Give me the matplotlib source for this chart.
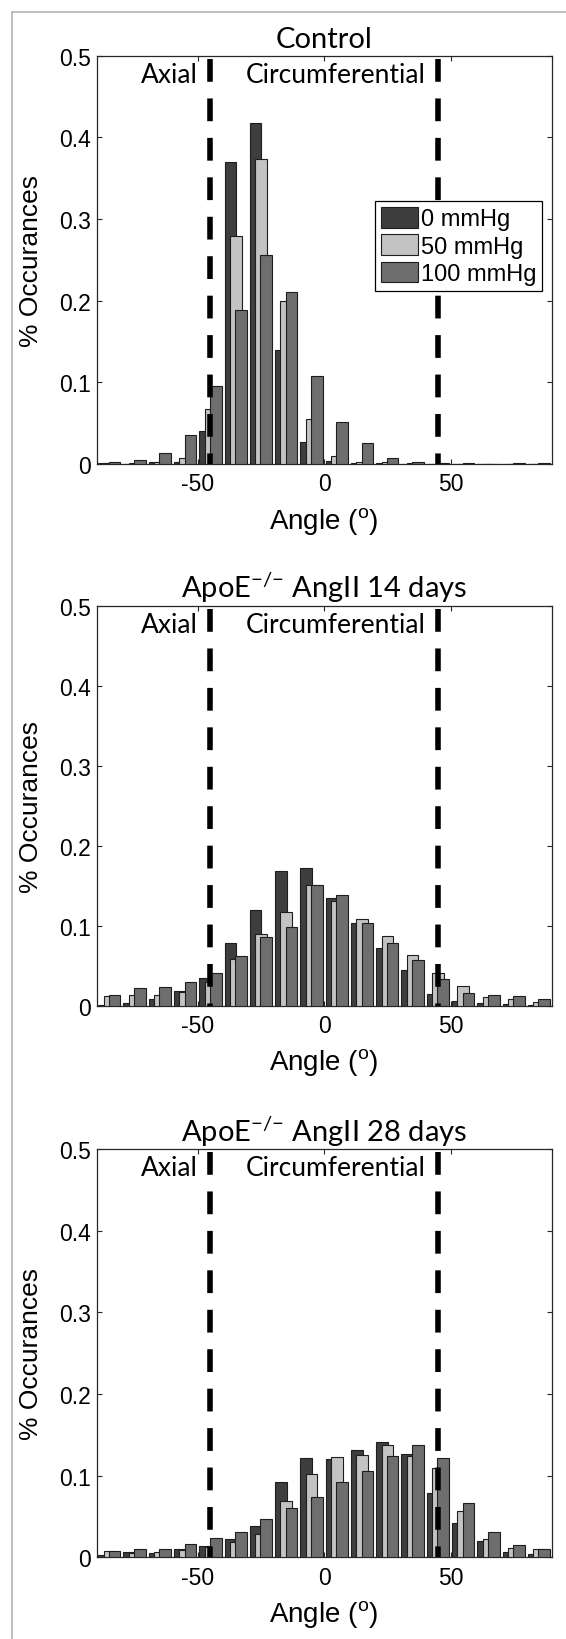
import matplotlib

matplotlib.use("Agg")
import matplotlib.pyplot as plt
from matplotlib.lines import Line2D
from matplotlib.ticker import FixedLocator, FixedFormatter

# ---- data ----------------------------------------------------------------
BIN_CENTERS = [-85, -75, -65, -55, -45, -35, -25, -15, -5,
               5, 15, 25, 35, 45, 55, 65, 75, 85]
SERIES = ["0 mmHg", "50 mmHg", "100 mmHg"]

CONTROL_0 = [0.001, 0.0005, 0.002, 0.003, 0.040, 0.370, 0.417, 0.139, 0.027,
             0.004, 0.001, 0.001, 0.0005, 0.0005, 0.0005, 0.0, 0.0003, 0.0005]
CONTROL_50 = [0.001, 0.001, 0.002, 0.007, 0.067, 0.279, 0.374, 0.200, 0.055,
              0.010, 0.003, 0.002, 0.001, 0.0005, 0.0005, 0.0, 0.0005, 0.0005]
CONTROL_100 = [0.002, 0.005, 0.013, 0.035, 0.095, 0.189, 0.256, 0.211, 0.108,
               0.051, 0.026, 0.007, 0.003, 0.001, 0.001, 0.0, 0.001, 0.001]

D14_0 = [0.001, 0.003, 0.008, 0.018, 0.035, 0.079, 0.120, 0.168, 0.172,
         0.135, 0.103, 0.072, 0.045, 0.015, 0.006, 0.003, 0.002, 0.001]
D14_50 = [0.012, 0.013, 0.013, 0.017, 0.030, 0.058, 0.090, 0.117, 0.151,
          0.131, 0.108, 0.087, 0.063, 0.041, 0.025, 0.011, 0.008, 0.005]
D14_100 = [0.014, 0.022, 0.024, 0.030, 0.041, 0.062, 0.086, 0.098, 0.151,
           0.138, 0.103, 0.078, 0.057, 0.033, 0.016, 0.013, 0.012, 0.009]

D28_0 = [0.003, 0.006, 0.005, 0.010, 0.014, 0.022, 0.038, 0.092, 0.122,
         0.120, 0.132, 0.141, 0.126, 0.079, 0.042, 0.020, 0.006, 0.004]
D28_50 = [0.0075, 0.005, 0.007, 0.009, 0.013, 0.019, 0.029, 0.069, 0.102,
          0.123, 0.125, 0.137, 0.124, 0.109, 0.057, 0.022, 0.012, 0.010]
D28_100 = [0.0075, 0.010, 0.010, 0.016, 0.024, 0.031, 0.047, 0.060, 0.074,
           0.092, 0.106, 0.124, 0.137, 0.122, 0.066, 0.031, 0.015, 0.010]

TITLES = ["Control",
          r"ApoE$^{\mathregular{{-}/{-}}}$ AngII 14 days",
          r"ApoE$^{\mathregular{{-}/{-}}}$ AngII 28 days"]
PANEL_DATA = [(CONTROL_0, CONTROL_50, CONTROL_100),
              (D14_0, D14_50, D14_100),
              (D28_0, D28_50, D28_100)]

Y_TICKS = [0, 0.1, 0.2, 0.3, 0.4, 0.5]
Y_TICK_LABELS = ["0", "0.1", "0.2", "0.3", "0.4", "0.5"]
X_TICKS = [-50, 0, 50]
X_TICK_LABELS = ["-50", "0", "50"]
BOUNDARIES = [-45, 45]

# ---- style ---------------------------------------------------------------
COLORS = ["#3e3e3e", "#c3c3c3", "#6e6e6e"]
EDGE = "#1e1e1e"
OFFSETS = [-2.1, 0.0, 2.1]
BAR_W = 4.6
W, H = 566, 1640

# axes boxes in pixels: left, right, top, bottom
BOXES = [(96.7, 551.6, 56.7, 465.0),
         (96.7, 551.6, 606.7, 1006.7),
         (96.7, 551.6, 1150.0, 1558.3)]

plt.rcParams["font.family"] = ["Liberation Sans", "DejaVu Sans"]
plt.rcParams["mathtext.fontset"] = "custom"
plt.rcParams["mathtext.rm"] = "Liberation Sans"

CALIBRI_LIKE = ["Lato", "DejaVu Sans"]

fig = plt.figure(figsize=(W / 100, H / 100), dpi=100, facecolor="white")

# light grey frame of the original figure
fig.add_artist(Line2D([11.7 / W, 11.7 / W], [0, 1 - 13.3 / H],
                      transform=fig.transFigure, color="#b4b4b4", lw=1.2))
fig.add_artist(Line2D([11.7 / W, 1], [1 - 13.3 / H, 1 - 13.3 / H],
                      transform=fig.transFigure, color="#b4b4b4", lw=1.2))

for p, (title, series) in enumerate(zip(TITLES, PANEL_DATA)):
    l, r, t, b = BOXES[p]
    ax = fig.add_axes([l / W, 1 - b / H, (r - l) / W, (b - t) / H])

    for k, vals in enumerate(series):
        xs = [c + OFFSETS[k] for c in BIN_CENTERS]
        ax.bar(xs, vals, width=BAR_W, color=COLORS[k], edgecolor=EDGE,
               linewidth=0.8, zorder=2 + k, label=SERIES[k])

    top_y = 0.5 - 3 * 0.5 / (b - t)
    for xb in BOUNDARIES:
        ax.plot([xb, xb], [top_y, 0], color="black", lw=4.0,
                dashes=(4.1, 3.0), dash_capstyle="butt", zorder=10)

    ax.text(-50, 0.477, "Axial", ha="right", va="center",
            family=CALIBRI_LIKE, fontsize=19, zorder=11)
    ax.text(-31, 0.477, "Circumferential", ha="left", va="center",
            family=CALIBRI_LIKE, fontsize=19, zorder=11)

    ax.set_xlim(-90, 90)
    ax.set_ylim(0, 0.5)
    ax.xaxis.set_major_locator(FixedLocator(X_TICKS))
    ax.xaxis.set_major_formatter(FixedFormatter(X_TICK_LABELS))
    ax.yaxis.set_major_locator(FixedLocator(Y_TICKS))
    ax.yaxis.set_major_formatter(FixedFormatter(Y_TICK_LABELS))
    ax.tick_params(direction="in", top=True, right=True, length=3.6,
                   width=0.8, color="#262626", labelsize=16.5)
    ax.tick_params(axis="x", pad=6)
    ax.tick_params(axis="y", pad=4)
    for s in ax.spines.values():
        s.set_color("#262626")
        s.set_linewidth(0.9)

    ax.set_title(title, family=CALIBRI_LIKE, fontsize=21, pad=6)
    ax.set_ylabel("% Occurances", fontsize=19)
    ax.yaxis.set_label_coords(-0.118, 0.5)
    ax.set_xlabel(r"Angle ($^{\mathregular{o}}$)", fontsize=20, va="center")
    ax.xaxis.set_label_coords(0.5, -0.14)

    if p == 0:
        leg = ax.legend(loc="upper left", bbox_to_anchor=(375 / W, 1 - 202 / H),
                        bbox_transform=fig.transFigure, borderaxespad=0,
                        fontsize=17, handlelength=1.57, handleheight=0.97,
                        handletextpad=0.12, labelspacing=0.17, borderpad=0.25,
                        fancybox=False, framealpha=1, edgecolor="black")
        leg.set_zorder(20)
        leg.get_frame().set_linewidth(0.9)

fig.savefig("out.png", dpi=100)
